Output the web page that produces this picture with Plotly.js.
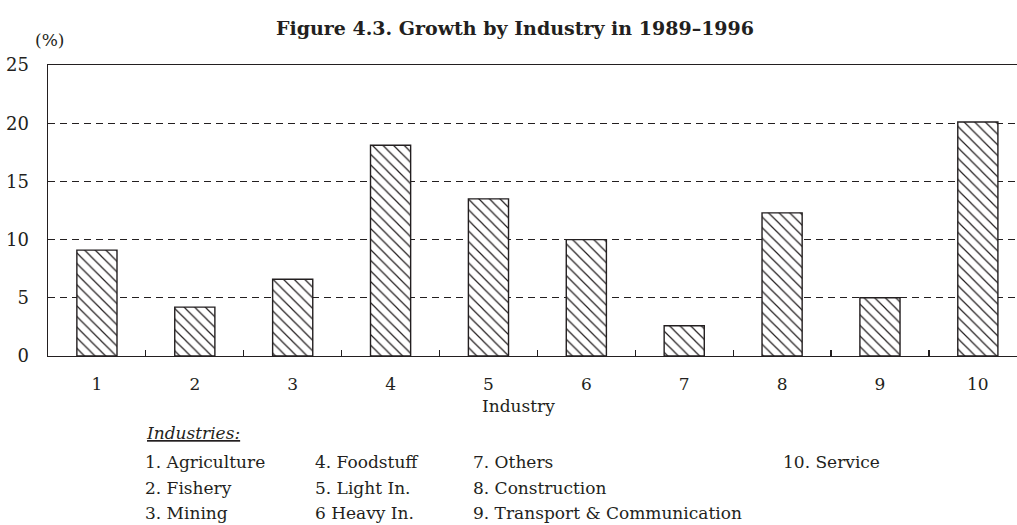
<!DOCTYPE html>
<html>
<head>
<meta charset="utf-8">
<script src="https://cdn.plot.ly/plotly-3.0.1.min.js"></script>
<style>html,body{margin:0;padding:0;background:#fff;}#chart{width:1017px;height:525px;}</style>
</head>
<body>
<div id="chart"></div>
<script>
const industries = ["1", "2", "3", "4", "5", "6", "7", "8", "9", "10"];
const growth = [9.1, 4.2, 6.6, 18.1, 13.5, 10.0, 2.6, 12.3, 5.0, 20.1];
const yTicks = [0, 5, 10, 15, 20, 25];
const legendCol1 = ["1. Agriculture", "2. Fishery", "3. Mining"];
const legendCol2 = ["4. Foodstuff", "5. Light In.", "6 Heavy In."];
const legendCol3 = ["7. Others", "8. Construction", "9. Transport &amp; Communication"];
const legendCol4 = ["10. Service"];

const INK = "#231f20";
const FONT = "DejaVu Serif";

// pixel helpers for layout placement (plot area: x 48..1017, y 65..356)
const L = 48, R = 1017, T = 65, B = 356;
const px = x => (x - L) / (R - L);
const py = y => (B - y) / (B - T);

const annotations = [];
annotations.push({text: "(%)", xref: "paper", yref: "paper", x: px(49), y: py(40),
  xanchor: "center", yanchor: "middle", showarrow: false, font: {family: FONT, size: 17, color: INK}});
annotations.push({text: "Industry", xref: "paper", yref: "paper", x: px(518), y: py(406),
  xanchor: "center", yanchor: "middle", showarrow: false, font: {family: FONT, size: 17, color: INK}});
annotations.push({text: "<u><i>Industries:</i></u>", xref: "paper", yref: "paper", x: px(144), y: py(433),
  xanchor: "left", yanchor: "middle", showarrow: false, font: {family: FONT, size: 17, color: INK}});
const rowsY = [462, 488, 513];
const cols = [[legendCol1, 143], [legendCol2, 313], [legendCol3, 471], [legendCol4, 781]];
cols.forEach(([items, xpx]) => {
  items.forEach((t, i) => {
    annotations.push({text: t, xref: "paper", yref: "paper", x: px(xpx), y: py(rowsY[i]),
      xanchor: "left", yanchor: "middle", showarrow: false, font: {family: FONT, size: 17, color: INK}});
  });
});

const trace = {
  type: "bar",
  x: industries,
  y: growth,
  width: 0.41,
  marker: {
    color: "#ffffff",
    line: {color: INK, width: 1.4},
    pattern: {shape: "\\", fgcolor: INK, bgcolor: "#ffffff", size: 7.5, solidity: 0.16}
  },
  hoverinfo: "skip"
};

const layout = {
  width: 1017, height: 525,
  margin: {l: L, r: 1017 - R, t: T, b: 525 - B, pad: 0},
  paper_bgcolor: "#ffffff", plot_bgcolor: "#ffffff",
  showlegend: false,
  font: {family: FONT, color: INK, size: 17},
  title: {
    text: "<b>Figure 4.3. Growth by Industry in 1989–1996</b>",
    font: {family: FONT, size: 19, color: INK},
    xref: "paper", x: px(515), xanchor: "center",
    yref: "container", y: 1 - 28 / 525, yanchor: "middle"
  },
  xaxis: {
    type: "category",
    range: [-0.5, 9.4],
    showline: true, linecolor: INK, linewidth: 1.4,
    mirror: true,
    ticks: "inside", tickson: "boundaries", ticklen: 6, tickcolor: INK, tickwidth: 1.2,
    showgrid: false, zeroline: false,
    tickfont: {family: FONT, size: 17, color: INK},
    ticklabelstandoff: 12
  },
  yaxis: {
    range: [0, 25],
    tickvals: yTicks,
    showline: true, linecolor: INK, linewidth: 1.4,
    ticks: "",
    showgrid: true, gridcolor: INK, gridwidth: 1, griddash: "7px,5px",
    zeroline: false,
    tickfont: {family: FONT, size: 18, color: INK},
    ticklabelstandoff: 14
  },
  annotations: annotations
};

Plotly.newPlot("chart", [trace], layout, {staticPlot: true});
</script>
</body>
</html>
